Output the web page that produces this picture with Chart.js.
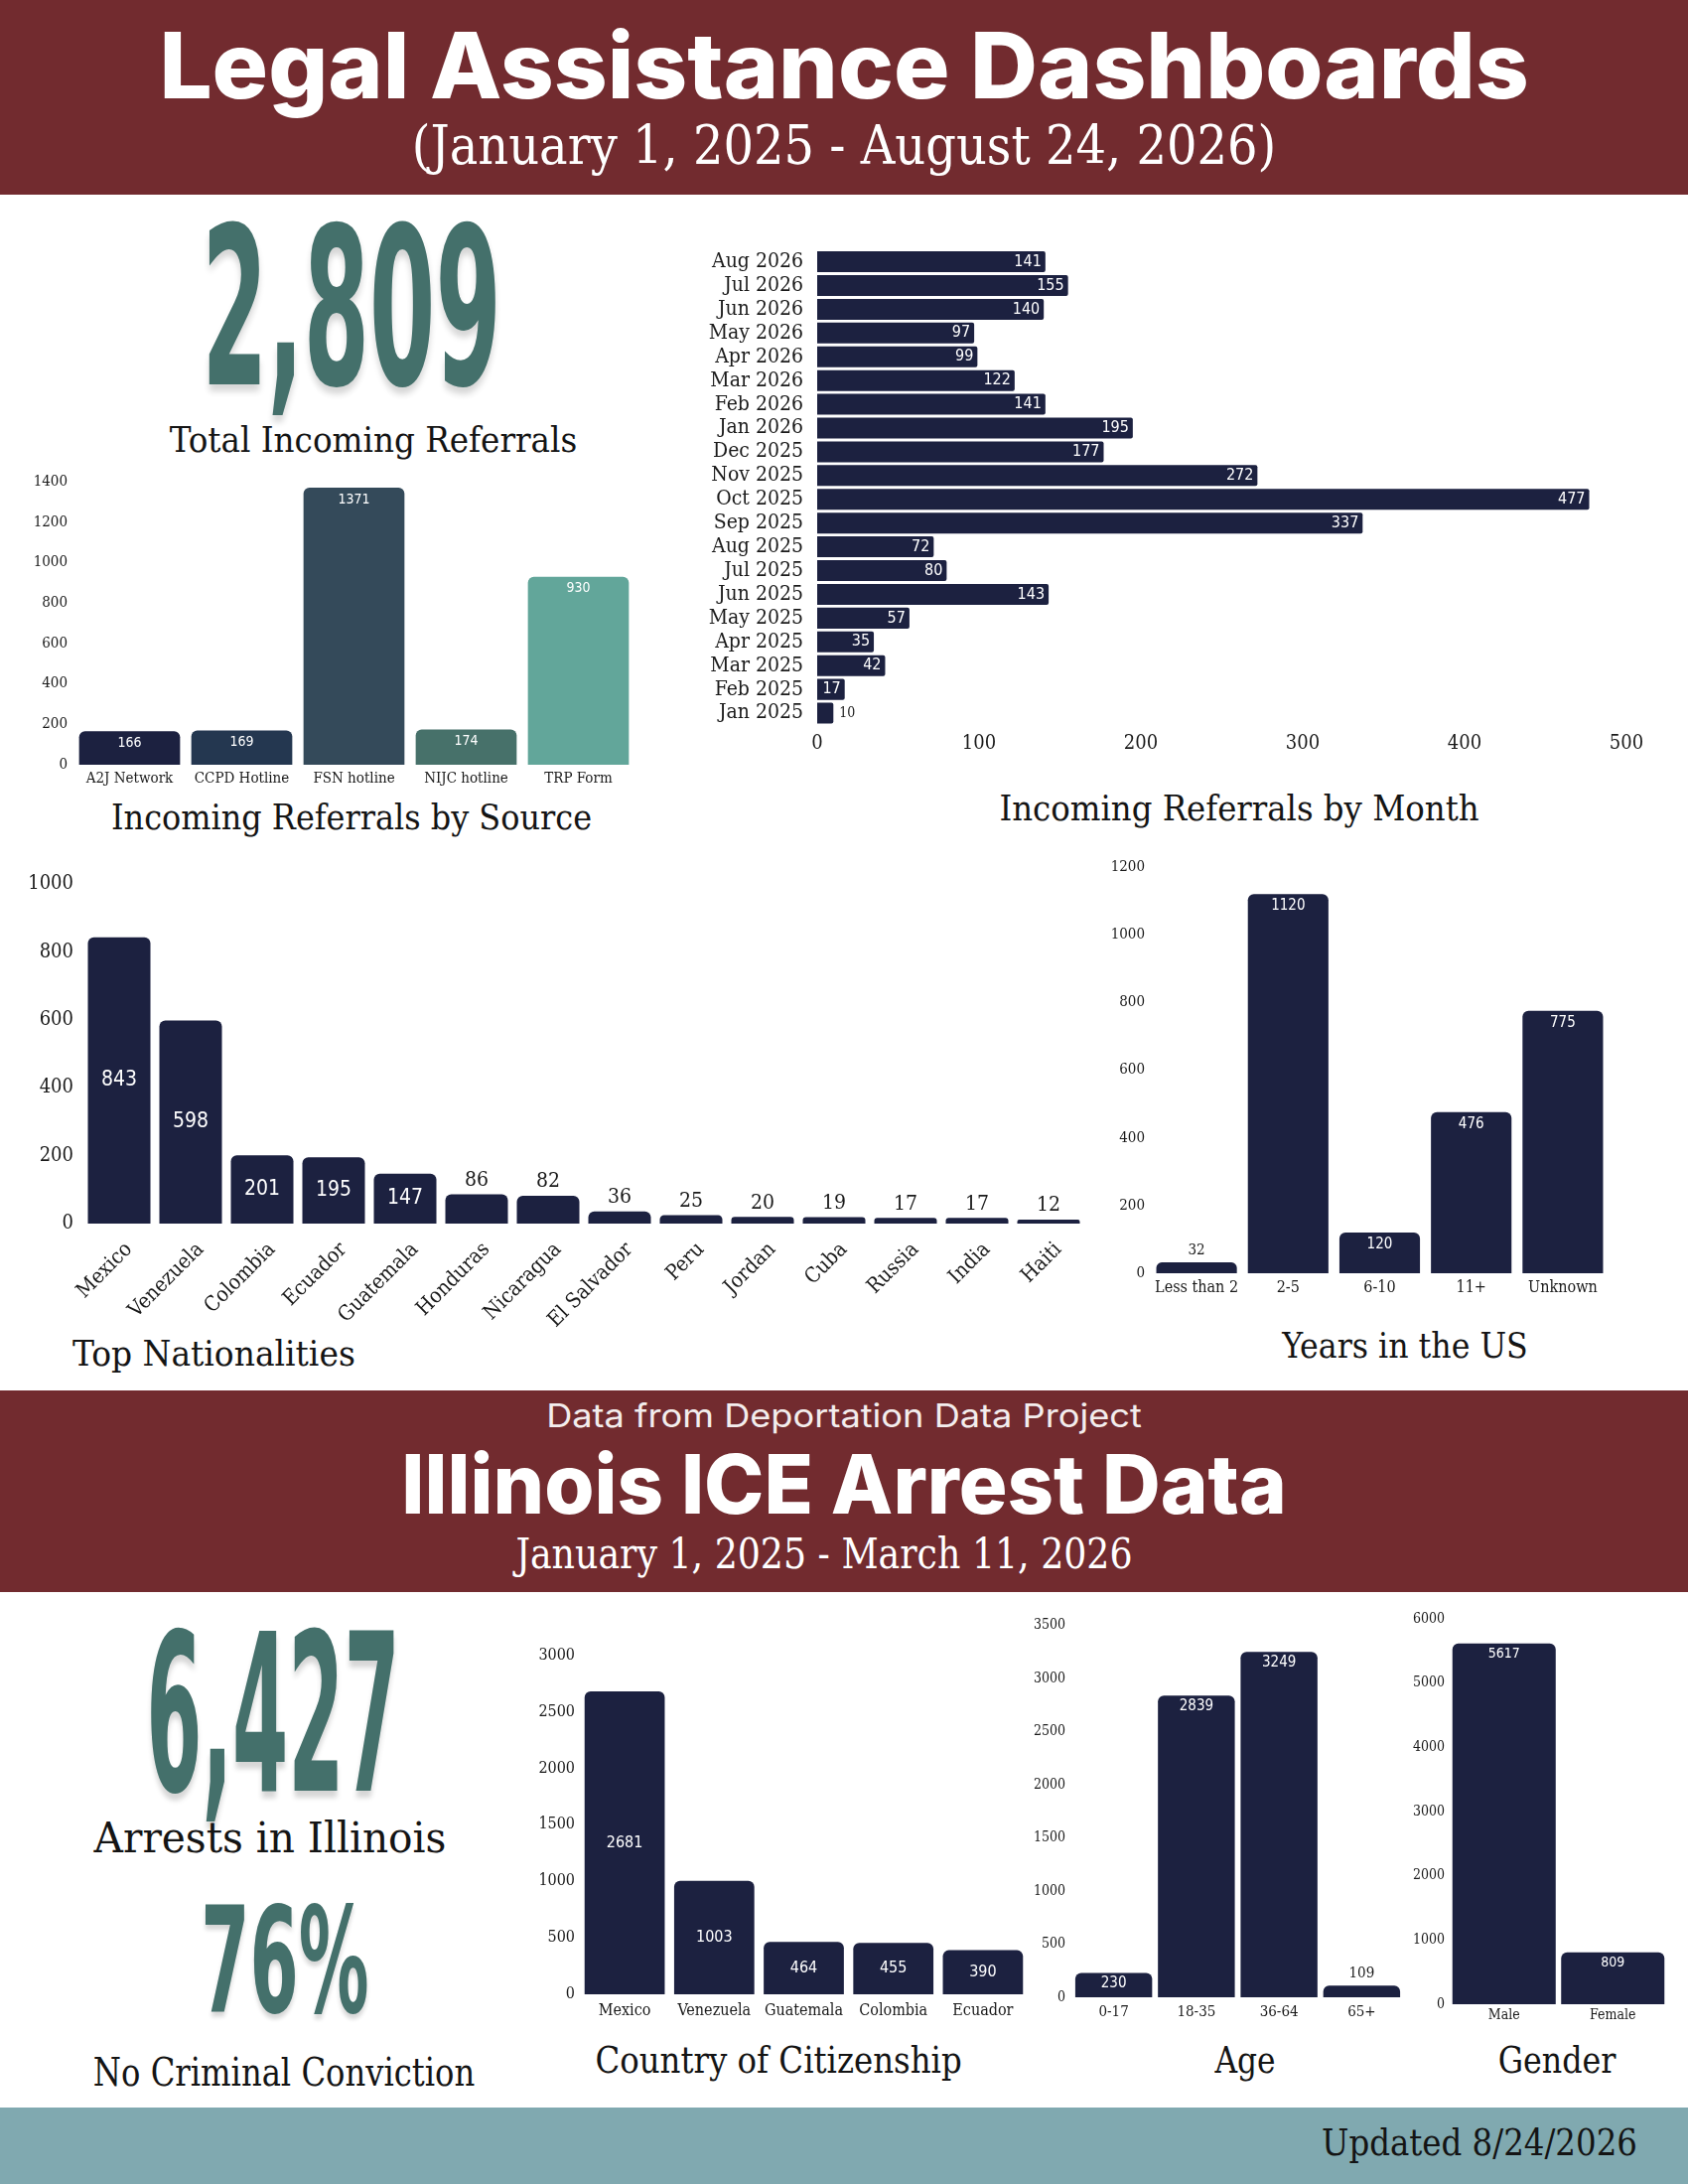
<!DOCTYPE html>
<html lang="en">
<head>
<meta charset="UTF-8">
<title>Legal Assistance Dashboards</title>
<script src="https://cdn.jsdelivr.net/npm/chart.js"></script>
<style>
    body { margin: 0; background: #fff; }
    #page {
        position: relative; width: 1700px; height: 2199px; overflow: hidden; background: #fff;
        font-family: "DejaVu Serif Condensed", "DejaVu Serif", serif; color: #141414;
    }
    .band { position: absolute; left: 0; width: 1700px; }
    .t { position: absolute; white-space: nowrap; line-height: 1; }
    .box { position: absolute; }
    .big {
        font-family: "DejaVu Sans Condensed", "DejaVu Sans", sans-serif; font-weight: bold;
        color: #44706b; text-shadow: 0 3px 4px rgba(0, 0, 0, 0.16);
    }
    .sans { font-family: Inter, "Open Sans", sans-serif; color: #fff; }
</style>
</head>
<body>
<div id="page">
    <div class="band" style="top:0;height:196px;background:#722b2f"></div>
    <div class="band" style="top:1400px;height:203px;background:#722b2f"></div>
    <div class="band" style="top:2122px;height:77px;background:#80a9b0"></div>

    <div class="t sans" data-x="850" data-y="66" data-w="1379" style="font-size:92px;font-weight:800">Legal Assistance Dashboards</div>
    <div class="t" data-x="850" data-y="147" data-w="870" style="font-size:54px;color:#fff">(January 1, 2025 - August 24, 2026)</div>

    <div class="t big" data-x="354" data-y="312" data-w="302" data-h="162" style="font-size:100px">2,809</div>
    <div class="t" data-x="376" data-y="443" data-w="410" style="font-size:36px">Total Incoming Referrals</div>
    <div class="t" data-x="354" data-y="823" data-w="484" style="font-size:36px">Incoming Referrals by Source</div>
    <div class="t" data-x="1248" data-y="814" data-w="483" style="font-size:36px">Incoming Referrals by Month</div>
    <div class="t" data-x="73" data-y="1363" data-w="285" data-align="left" style="font-size:36px">Top Nationalities</div>
    <div class="t" data-x="1415" data-y="1355" data-w="247" style="font-size:36px">Years in the US</div>

    <div class="t sans" data-x="850" data-y="1425" data-w="600" style="font-size:33px;font-weight:400;color:#f3eded">Data from Deportation Data Project</div>
    <div class="t sans" data-x="850" data-y="1494" data-w="891" style="font-size:83px;font-weight:800">Illinois ICE Arrest Data</div>
    <div class="t" data-x="830" data-y="1565" data-w="621" style="font-size:42px;color:#fff">January 1, 2025 - March 11, 2026</div>

    <div class="t big" data-x="275" data-y="1728" data-w="256" data-h="161" style="font-size:100px">6,427</div>
    <div class="t" data-x="272" data-y="1851" data-w="355" style="font-size:42px">Arrests in Illinois</div>
    <div class="t big" data-x="287" data-y="1976" data-w="169" data-h="108" style="font-size:100px">76%</div>
    <div class="t" data-x="286" data-y="2086" data-w="384" style="font-size:39px">No Criminal Conviction</div>

    <div class="t" data-x="784" data-y="2074" data-w="369" style="font-size:37px">Country of Citizenship</div>
    <div class="t" data-x="1254" data-y="2074" data-w="61" style="font-size:37px">Age</div>
    <div class="t" data-x="1568" data-y="2074" data-w="119" style="font-size:37px">Gender</div>
    <div class="t" data-x="1490" data-y="2157" data-w="318" style="font-size:38px">Updated 8/24/2026</div>

    <div class="box" style="left:14px;top:470px;width:635px;height:330px"><canvas id="sourceChart"></canvas></div>
    <div class="box" style="left:690px;top:225px;width:978px;height:545px"><canvas id="monthChart"></canvas></div>
    <div class="box" style="left:10px;top:868px;width:1092px;height:474px"><canvas id="nationChart"></canvas></div>
    <div class="box" style="left:1104px;top:858px;width:526px;height:454px"><canvas id="yearsChart"></canvas></div>
    <div class="box" style="left:524px;top:1652px;width:516px;height:388px"><canvas id="citizenChart"></canvas></div>
    <div class="box" style="left:1025px;top:1621px;width:393px;height:420px"><canvas id="ageChart"></canvas></div>
    <div class="box" style="left:1405px;top:1616px;width:282px;height:432px"><canvas id="genderChart"></canvas></div>
</div>

<script>
    // referrals by source
    const sourceLabels = ['A2J Network', 'CCPD Hotline', 'FSN hotline', 'NIJC hotline', 'TRP Form'];
    const sourceValues = [166, 169, 1371, 174, 930];
    const sourceTicks = [0, 200, 400, 600, 800, 1000, 1200, 1400];

    // referrals by month (top to bottom)
    const monthLabels = ['Aug 2026', 'Jul 2026', 'Jun 2026', 'May 2026', 'Apr 2026', 'Mar 2026', 'Feb 2026',
        'Jan 2026', 'Dec 2025', 'Nov 2025', 'Oct 2025', 'Sep 2025', 'Aug 2025', 'Jul 2025', 'Jun 2025',
        'May 2025', 'Apr 2025', 'Mar 2025', 'Feb 2025', 'Jan 2025'];
    const monthValues = [141, 155, 140, 97, 99, 122, 141, 195, 177, 272, 477, 337, 72, 80, 143, 57, 35, 42, 17, 10];
    const monthTicks = [0, 100, 200, 300, 400, 500];

    // top nationalities
    const nationLabels = ['Mexico', 'Venezuela', 'Colombia', 'Ecuador', 'Guatemala', 'Honduras', 'Nicaragua',
        'El Salvador', 'Peru', 'Jordan', 'Cuba', 'Russia', 'India', 'Haiti'];
    const nationValues = [843, 598, 201, 195, 147, 86, 82, 36, 25, 20, 19, 17, 17, 12];
    const nationTicks = [0, 200, 400, 600, 800, 1000];

    // years in the US
    const yearsLabels = ['Less than 2', '2-5', '6-10', '11+', 'Unknown'];
    const yearsValues = [32, 1120, 120, 476, 775];
    const yearsTicks = [0, 200, 400, 600, 800, 1000, 1200];

    // ICE arrests: citizenship, age, gender
    const citizenLabels = ['Mexico', 'Venezuela', 'Guatemala', 'Colombia', 'Ecuador'];
    const citizenValues = [2681, 1003, 464, 455, 390];
    const citizenTicks = [0, 500, 1000, 1500, 2000, 2500, 3000];

    const ageLabels = ['0-17', '18-35', '36-64', '65+'];
    const ageValues = [230, 2839, 3249, 109];
    const ageTicks = [0, 500, 1000, 1500, 2000, 2500, 3000, 3500];

    const genderLabels = ['Male', 'Female'];
    const genderValues = [5617, 809];
    const genderTicks = [0, 1000, 2000, 3000, 4000, 5000, 6000];

    const SERIF = '"DejaVu Serif Condensed", "DejaVu Serif", serif';
    const SANS = '"DejaVu Sans Condensed", "DejaVu Sans", sans-serif';
    const NAVY = '#1c2140';
    const sourceColors = ['#1c2140', '#243750', '#344a5a', '#47716a', '#62a69a'];

    Chart.defaults.font.family = SERIF;
    Chart.defaults.color = '#1a1a1a';

    // numbers on the bars: inside in white, outside in dark when the bar is too short
    const valueLabels = {
        id: 'valueLabels',
        afterDatasetsDraw(chart, args, o) {
            const ctx = chart.ctx;
            const meta = chart.getDatasetMeta(0);
            const values = chart.data.datasets[0].data;
            ctx.save();
            meta.data.forEach((bar, i) => {
                const p = bar.getProps(['x', 'y', 'base'], true);
                const text = String(values[i]);
                if (o.horizontal) {
                    ctx.textBaseline = 'middle';
                    if (p.x - p.base >= o.minInside) {
                        ctx.font = o.size + 'px ' + SANS;
                        ctx.fillStyle = '#fff';
                        ctx.textAlign = 'right';
                        ctx.fillText(text, p.x - 4, p.y);
                    } else {
                        ctx.font = (o.size - 2) + 'px ' + SERIF;
                        ctx.fillStyle = '#1a1a1a';
                        ctx.textAlign = 'left';
                        ctx.fillText(text, p.x + 6, p.y);
                    }
                    return;
                }
                ctx.textAlign = 'center';
                ctx.textBaseline = 'middle';
                if (p.base - p.y >= o.minInside) {
                    ctx.font = o.size + 'px ' + SANS;
                    ctx.fillStyle = '#fff';
                    const y = o.mode === 'center' ? (p.y + p.base) / 2 : p.y + o.offset;
                    ctx.fillText(text, p.x, y);
                } else {
                    ctx.font = o.size + 'px ' + SERIF;
                    ctx.fillStyle = '#1a1a1a';
                    ctx.fillText(text, p.x, p.y - o.above);
                }
            });
            ctx.restore();
        }
    };

    function makeChart(id, labels, values, o) {
        const ticks = o.ticks;
        const valueAxis = {
            min: ticks[0],
            max: ticks[ticks.length - 1],
            afterBuildTicks: s => { s.ticks = ticks.map(v => ({value: v})); },
            ticks: {font: {size: o.tickSize}, padding: o.tickPad, color: '#1a1a1a', callback: v => String(v)},
            grid: {display: false, drawTicks: false},
            border: {display: false}
        };
        const catAxis = {
            ticks: {
                font: {size: o.catSize}, padding: o.catPad, color: '#1a1a1a', autoSkip: false,
                minRotation: o.rot || 0, maxRotation: o.rot || 0, labelOffset: o.labelShift || 0
            },
            grid: {display: false, drawTicks: false},
            border: {display: false}
        };
        const x = o.horizontal ? valueAxis : catAxis;
        const y = o.horizontal ? catAxis : valueAxis;
        x.afterFit = s => { s.height = o.xh; };
        y.afterFit = s => { s.width = o.yw; };

        return new Chart(document.getElementById(id), {
            type: 'bar',
            data: {
                labels: labels,
                datasets: [{
                    data: values,
                    backgroundColor: o.colors || NAVY,
                    borderRadius: o.radius,
                    borderSkipped: 'start',
                    barPercentage: o.bar,
                    categoryPercentage: 1
                }]
            },
            options: {
                indexAxis: o.horizontal ? 'y' : 'x',
                responsive: true,
                maintainAspectRatio: false,
                animation: false,
                layout: {padding: {top: 14, right: o.padRight, left: 0, bottom: 0}},
                scales: {x: x, y: y},
                plugins: {
                    legend: {display: false},
                    tooltip: {enabled: false},
                    valueLabels: o.labels
                }
            },
            plugins: [valueLabels]
        });
    }

    makeChart('sourceChart', sourceLabels, sourceValues, {
        ticks: sourceTicks, tickSize: 15, tickPad: 6, catSize: 15, catPad: 5,
        xh: 30, yw: 60, padRight: 10, bar: 0.9, radius: 6, colors: sourceColors,
        labels: {mode: 'top', offset: 12, minInside: 20, size: 14, above: 12}
    });

    makeChart('monthChart', monthLabels, monthValues, {
        horizontal: true, ticks: monthTicks, tickSize: 20, tickPad: 7, catSize: 21, catPad: 14,
        xh: 40, yw: 133, padRight: 30, bar: 0.88, radius: 2,
        labels: {horizontal: true, minInside: 22, size: 16}
    });

    makeChart('nationChart', nationLabels, nationValues, {
        ticks: nationTicks, tickSize: 20, tickPad: 10, catSize: 21, catPad: 14, rot: 45, labelShift: 10,
        xh: 110, yw: 74, padRight: 10, bar: 0.875, radius: 6,
        labels: {mode: 'center', minInside: 40, size: 21, above: 14}
    });

    makeChart('yearsChart', yearsLabels, yearsValues, {
        ticks: yearsTicks, tickSize: 15, tickPad: 6, catSize: 16, catPad: 5,
        xh: 30, yw: 55, padRight: 10, bar: 0.88, radius: 6,
        labels: {mode: 'top', offset: 12, minInside: 30, size: 15, above: 12}
    });

    makeChart('citizenChart', citizenLabels, citizenValues, {
        ticks: citizenTicks, tickSize: 16, tickPad: 5, catSize: 16, catPad: 7,
        xh: 32, yw: 60, padRight: 5, bar: 0.895, radius: 6,
        labels: {mode: 'center', minInside: 25, size: 16, above: 12}
    });

    makeChart('ageChart', ageLabels, ageValues, {
        ticks: ageTicks, tickSize: 14, tickPad: 7, catSize: 15, catPad: 6,
        xh: 30, yw: 55, padRight: 5, bar: 0.93, radius: 6,
        labels: {mode: 'top', offset: 11, minInside: 18, size: 15, above: 12}
    });

    makeChart('genderChart', genderLabels, genderValues, {
        ticks: genderTicks, tickSize: 14, tickPad: 5, catSize: 14, catPad: 3,
        xh: 30, yw: 55, padRight: 8, bar: 0.95, radius: 6,
        labels: {mode: 'top', offset: 11, minInside: 18, size: 14, above: 12}
    });

    // place the text blocks and stretch them to the widths of the original
    function fitTexts() {
        document.querySelectorAll('.t').forEach(el => {
            el.style.transform = 'none';
            const w = el.offsetWidth;
            const fs = parseFloat(el.style.fontSize);
            const sx = +el.dataset.w / w;
            const sy = el.dataset.h ? +el.dataset.h / (fs * 0.73) : 1;
            el.style.left = el.dataset.x + 'px';
            el.style.top = el.dataset.y + 'px';
            if (el.dataset.align === 'left') {
                el.style.transformOrigin = '0 50%';
                el.style.transform = `translate(0, -50%) scale(${sx}, ${sy})`;
            } else {
                el.style.transformOrigin = '50% 50%';
                el.style.transform = `translate(-50%, -50%) scale(${sx}, ${sy})`;
            }
        });
    }
    fitTexts();
    document.fonts.ready.then(fitTexts);
</script>
</body>
</html>
